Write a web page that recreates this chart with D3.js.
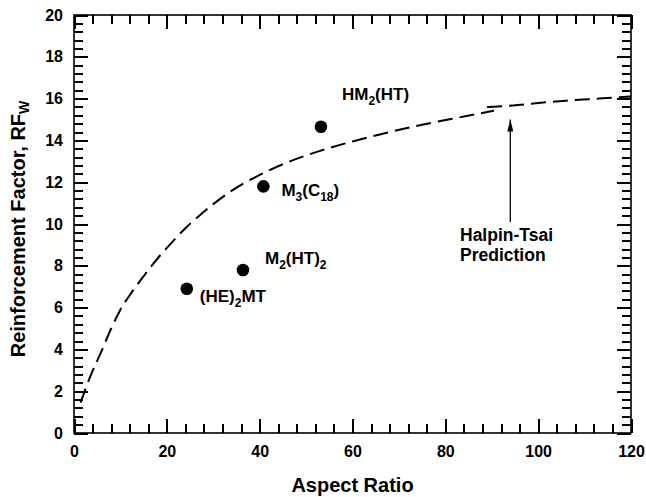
<!DOCTYPE html>
<html>
<head>
<meta charset="utf-8">
<script src="https://cdn.jsdelivr.net/npm/d3@7"></script>
<style>
  html, body { margin: 0; padding: 0; background: #fff; }
  svg { display: block; font-family: "Liberation Sans", Arial, Helvetica, sans-serif; font-weight: bold; }
</style>
</head>
<body>
<svg id="chart" width="646" height="497"></svg>
<script>
// Measured clay particles: aspect ratio vs. reinforcement factor
const clayNames   = ["(HE)2MT", "M2(HT)2", "M3(C18)", "HM2(HT)"];
const aspectRatio = [24.3, 36.4, 40.8, 53.2];
const rfValues    = [6.9, 7.8, 11.8, 14.65];

// Halpin-Tsai prediction, drawn as two overlapping dashed pieces
const htAspectA = [1.4, 3.5, 6, 8, 10, 12.5, 15, 18, 21, 24, 27, 30, 34, 40, 46, 53, 60, 68, 75, 83, 90.5];
const htRfA     = [1.45, 2.7, 3.95, 5.0, 5.9, 6.75, 7.5, 8.35, 9.1, 9.8, 10.4, 10.95, 11.6, 12.35, 12.95, 13.5, 13.95, 14.4, 14.75, 15.1, 15.42];
const htAspectB = [89, 94.6, 100, 106, 113, 120];
const htRfB     = [15.6, 15.67, 15.79, 15.9, 16.0, 16.1];

// Axis ticks
const xMajorTicks = [0, 20, 40, 60, 80, 100, 120];
const yMajorTicks = [0, 2, 4, 6, 8, 10, 12, 14, 16, 18, 20];
const xMinorStep = 4;
const yMinorStep = 0.4;

const svg = d3.select("#chart");
const margin = { top: 15, right: 15, bottom: 64, left: 74 };
const W = 646, H = 497;
const iw = W - margin.left - margin.right;
const ih = H - margin.top - margin.bottom;

const x = d3.scaleLinear().domain([0, 120]).range([margin.left, margin.left + iw]);
const y = d3.scaleLinear().domain([0, 20]).range([margin.top + ih, margin.top]);

const xMinor = d3.range(0, 31).map(i => i * xMinorStep).filter(v => !xMajorTicks.includes(v));
const yMinor = d3.range(0, 51).map(i => +(i * yMinorStep).toFixed(1)).filter(v => !yMajorTicks.includes(v));

const MAJ = 14, MIN = 9;

// Frame
svg.append("rect")
  .attr("x", x(0)).attr("y", y(20)).attr("width", x(120) - x(0)).attr("height", y(0) - y(20))
  .attr("fill", "none").attr("stroke", "#000").attr("stroke-width", 1.6);

// Inward tick marks on every side, built with d3 axes (negative size points them inward)
function inward(g) {
  g.select(".domain").remove();
  g.selectAll(".tick text").remove();
  g.selectAll(".tick line").attr("stroke", "#000").attr("stroke-width", 2)
    .attr("shape-rendering", "crispEdges");
}
const axisDefs = [
  [d3.axisBottom, x, xMinor, MIN, `translate(0,${y(0)})`],
  [d3.axisBottom, x, xMajorTicks, MAJ, `translate(0,${y(0)})`],
  [d3.axisTop, x, xMinor, MIN, `translate(0,${y(20)})`],
  [d3.axisTop, x, xMajorTicks, MAJ, `translate(0,${y(20)})`],
  [d3.axisLeft, y, yMinor, MIN, `translate(${x(0)},0)`],
  [d3.axisLeft, y, yMajorTicks, MAJ, `translate(${x(0)},0)`],
  [d3.axisRight, y, yMinor, MIN, `translate(${x(120)},0)`],
  [d3.axisRight, y, yMajorTicks, MAJ, `translate(${x(120)},0)`]
];
axisDefs.forEach(([mk, sc, vals, len, tr]) => {
  svg.append("g").attr("transform", tr)
    .call(mk(sc).tickValues(vals).tickSize(-len))
    .call(inward);
});

// Tick labels from the axis generators
function labelAxis(g) {
  g.select(".domain").remove();
  g.selectAll(".tick line").remove();
  g.selectAll(".tick text").attr("fill", "#000").attr("font-size", 16).attr("font-weight", "bold")
    .attr("font-family", "'Liberation Sans', Arial, sans-serif");
}
svg.append("g").attr("transform", `translate(0,${y(0)})`)
  .call(d3.axisBottom(x).tickValues(xMajorTicks).tickSize(0).tickPadding(13).tickFormat(d3.format("d")))
  .call(labelAxis);
svg.append("g").attr("transform", `translate(${x(0)},0)`)
  .call(d3.axisLeft(y).tickValues(yMajorTicks).tickSize(0).tickPadding(11).tickFormat(d3.format("d")))
  .call(labelAxis);

// Prediction curve
const line = d3.line().x(d => x(d[0])).y(d => y(d[1])).curve(d3.curveMonotoneX);
[[htAspectA, htRfA], [htAspectB, htRfB]].forEach(([xs, ys]) => {
  svg.append("path")
    .datum(xs.map((v, i) => [v, ys[i]]))
    .attr("d", line)
    .attr("fill", "none").attr("stroke", "#000").attr("stroke-width", 2)
    .attr("stroke-dasharray", "15,7");
});

// Measured points
svg.append("g").selectAll("circle")
  .data(aspectRatio.map((v, i) => [v, rfValues[i]]))
  .join("circle")
  .attr("cx", d => x(d[0])).attr("cy", d => y(d[1])).attr("r", 6.3).attr("fill", "#000");

// Point labels with subscripts
const labelParts = [
  [["(HE)", ""], ["2", "sub"], ["MT", ""]],
  [["M", ""], ["2", "sub"], ["(HT)", ""], ["2", "sub"]],
  [["M", ""], ["3", "sub"], ["(C", ""], ["18", "sub"], [")", ""]],
  [["HM", ""], ["2", "sub"], ["(HT)", ""]]
];
const labelOffsets = [[13, 13], [22, -6], [18, 10], [21, -27]];

labelParts.forEach((parts, i) => {
  const t = svg.append("text")
    .attr("x", x(aspectRatio[i]) + labelOffsets[i][0])
    .attr("y", y(rfValues[i]) + labelOffsets[i][1])
    .attr("font-size", 17).attr("fill", "#000");
  let shifted = false;
  parts.forEach(([s, kind]) => {
    const ts = t.append("tspan").text(s);
    if (kind === "sub") {
      ts.attr("font-size", 12).attr("dy", shifted ? 0 : 5);
      shifted = true;
    } else {
      ts.attr("dy", shifted ? -5 : 0);
      shifted = false;
    }
  });
});

// Annotation arrow
svg.append("defs").append("marker")
  .attr("id", "arrowHead").attr("viewBox", "0 0 12 6").attr("refX", 12).attr("refY", 3)
  .attr("markerWidth", 12).attr("markerHeight", 6).attr("markerUnits", "userSpaceOnUse")
  .attr("orient", "auto")
  .append("path").attr("d", "M0,0 L12,3 L0,6 Z").attr("fill", "#000");

svg.append("line")
  .attr("x1", x(94)).attr("y1", y(10.1)).attr("x2", x(94)).attr("y2", y(15.0))
  .attr("stroke", "#000").attr("stroke-width", 1.3).attr("marker-end", "url(#arrowHead)");

const ann = svg.append("text").attr("font-size", 17.5).attr("fill", "#000");
ann.append("tspan").attr("x", 460).attr("y", 241).text("Halpin-Tsai");
ann.append("tspan").attr("x", 460).attr("y", 261).text("Prediction");

// Axis titles
svg.append("text")
  .attr("x", (x(0) + x(120)) / 2).attr("y", 492)
  .attr("text-anchor", "middle").attr("font-size", 20).attr("fill", "#000")
  .text("Aspect Ratio");

const yt = svg.append("text")
  .attr("transform", `translate(25,229) rotate(-90)`)
  .attr("text-anchor", "middle").attr("font-size", 20).attr("fill", "#000");
yt.append("tspan").text("Reinforcement Factor, RF");
yt.append("tspan").attr("font-size", 14).attr("dy", 4).text("W");
</script>
</body>
</html>
